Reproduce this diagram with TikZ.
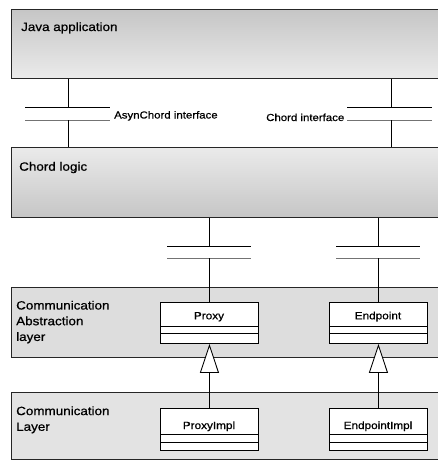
\documentclass[tikz,border=0pt]{standalone}
\usepackage{fontspec}
\setmainfont{Liberation Sans}[FakeStretch=1.12, FakeBold=0.7]
\usetikzlibrary{arrows.meta}

\begin{document}
\begin{tikzpicture}[x=1pt,y=-1pt,
  layer/.style={draw=black!85, line width=0.9pt, anchor=north west,
    minimum width=440pt, minimum height=#1, inner sep=0pt},
  classbox/.style={draw=black, line width=0.9pt, fill=white, anchor=north west,
    minimum width=98pt, minimum height=#1, inner sep=0pt},
  layertext/.style={inner sep=0pt, align=left, font=\fontsize{12}{15.7}\selectfont},
  classname/.style={inner sep=0pt, anchor=base, font=\fontsize{10.5}{12}\selectfont},
  ifacetext/.style={inner sep=0pt, anchor=base west, font=\fontsize{10.2}{12}\selectfont},
  wire/.style={draw=black, line width=0.9pt},
  socket/.style={draw=black!55, line width=0.9pt},
  realize/.style={wire, -{Triangle[open, fill=white, length=29pt, width=19pt, line width=0.9pt]}}
]
\clip (0,0) rectangle (438,461);

% layers
\node[layer=69pt, top color=gray!45, bottom color=gray!16] (java) at (11,9) {};
\node[layer=70pt, top color=gray!16, bottom color=gray!45] (chord) at (11,147) {};
\node[layer=70pt, fill=gray!27] (cal) at (11,287) {};
\node[layer=67pt, fill=gray!22] (cl) at (11,392) {};

\node[layertext, anchor=base west] (javaL) at (21,31) {Java application};
\node[layertext, anchor=base west] (chordL) at (19,170.7) {Chord logic};
\node[layertext, anchor=north west] (calL) at (16,300.6) {Communication\\Abstraction\\layer};
\node[layertext, anchor=north west] (clL) at (16,406.2) {Communication\\Layer};

% interfaces between Java application and Chord logic
\coordinate (aTop) at (68,107);
\coordinate (aBot) at (68,120);
\coordinate (cTop) at (391,107);
\coordinate (cBot) at (391,120);
\draw[wire] (java.south -| aTop) -- (aTop);
\draw[wire] ([xshift=-43pt]aTop) -- ([xshift=42pt]aTop);
\draw[socket] ([xshift=-43pt]aBot) -- ([xshift=42pt]aBot);
\draw[wire] (aBot) -- (chord.north -| aBot);
\draw[wire] (java.south -| cTop) -- (cTop);
\draw[wire] ([xshift=-44pt]cTop) -- ([xshift=41pt]cTop);
\draw[socket] ([xshift=-44pt]cBot) -- ([xshift=41pt]cBot);
\draw[wire] (cBot) -- (chord.north -| cBot);
\node[ifacetext] (aL) at (114,118.5) {AsynChord interface};
\node[ifacetext] (cL) at (266,121) {Chord interface};

% classes
\node[classbox=41pt] (proxy) at (160,302) {};
\node[classbox=41pt] (endpoint) at (329,302) {};
\node[classbox=42pt] (proxyimpl) at (160,408) {};
\node[classbox=42pt] (endpointimpl) at (329,408) {};

% interfaces between Chord logic and the abstraction classes
\coordinate (pTop) at (proxy.north |- 0,246);
\coordinate (pBot) at (proxy.north |- 0,258);
\coordinate (eTop) at (endpoint.north |- 0,246);
\coordinate (eBot) at (endpoint.north |- 0,258);
\draw[wire] (chord.south -| pTop) -- (pTop);
\draw[wire] ([xshift=-42pt]pTop) -- ([xshift=42pt]pTop);
\draw[socket] ([xshift=-42pt]pBot) -- ([xshift=42pt]pBot);
\draw[wire] (pBot) -- (proxy.north);
\draw[wire] (chord.south -| eTop) -- (eTop);
\draw[wire] ([xshift=-42pt]eTop) -- ([xshift=42pt]eTop);
\draw[socket] ([xshift=-42pt]eBot) -- ([xshift=42pt]eBot);
\draw[wire] (eBot) -- (endpoint.north);

% compartments
\foreach \c/\a/\b in {proxy/326/333, endpoint/326/333, proxyimpl/434/442, endpointimpl/434/442} {
  \draw[wire] (\c.west |- 0,\a) -- (\c.east |- 0,\a);
  \draw[wire] (\c.west |- 0,\b) -- (\c.east |- 0,\b);
}

\node[classname] (proxyN) at (209,319.3) {Proxy};
\node[classname] (endpointN) at (378,319.3) {Endpoint};
\node[classname] (proxyimplN) at (209,429) {ProxyImpl};
\node[classname] (endpointimplN) at (378,429) {EndpointImpl};

% implementations
\draw[realize] (proxyimpl.north) -- (proxy.south);
\draw[realize] (endpointimpl.north) -- (endpoint.south);
\end{tikzpicture}
\end{document}
